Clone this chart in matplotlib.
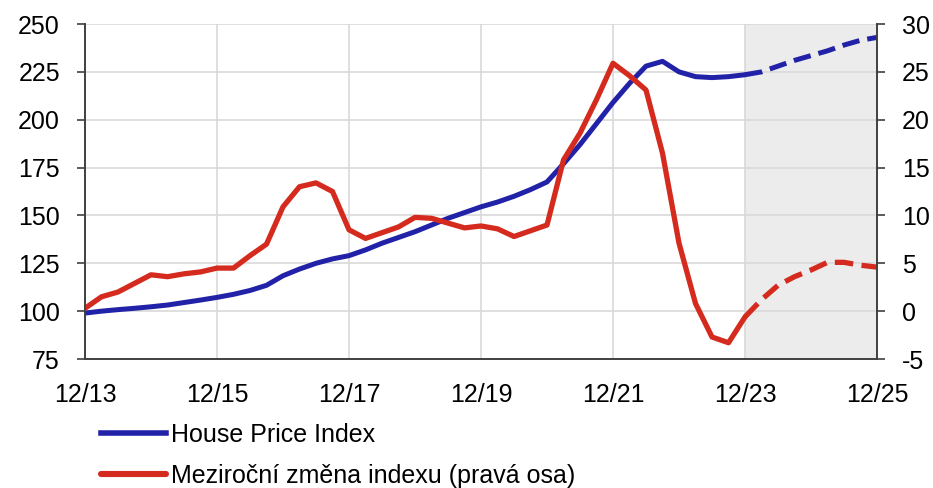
import matplotlib.pyplot as plt
import numpy as np

plt.rcParams['font.family'] = ['Liberation Sans', 'DejaVu Sans']
plt.rcParams['axes.unicode_minus'] = False

# quarterly observations, Q4 2013 .. Q4 2025 (last 8 quarters are forecast)
hpi = [99, 100, 100.8, 101.5, 102.3, 103.2, 104.5, 105.8, 107.2, 108.8,
       110.8, 113.5, 118.5, 122, 125, 127.3, 129, 132, 135.5, 138.5,
       141.5, 145, 148.5, 151.5, 154.5, 157, 160, 163.5, 167.5, 177,
       187, 198, 209, 219, 228, 230.5, 225, 222.5, 222, 222.5,
       223.5, 225, 228, 231, 233.5, 236, 239, 241.5, 243]
yoy = [0.3, 1.5, 2.0, 2.9, 3.8, 3.6, 3.9, 4.1, 4.5, 4.5,
       5.8, 7.0, 10.9, 13.0, 13.4, 12.5, 8.5, 7.6, 8.2, 8.8,
       9.8, 9.7, 9.2, 8.7, 8.9, 8.6, 7.8, 8.4, 9.0, 15.8,
       18.6, 22.1, 25.9, 24.6, 23.1, 16.5, 7.1, 0.8, -2.7, -3.3,
       -0.6, 1.2, 2.7, 3.6, 4.3, 5.1, 5.1, 4.8, 4.6]
n_actual = 41  # up to Q4 2023
tick_labels = ['12/13', '12/15', '12/17', '12/19', '12/21', '12/23', '12/25']

blue = '#2222a8'
red = '#d52b1e'
dash = (0, (3.5, 1.6))

q = np.arange(len(hpi))

fig = plt.figure(figsize=(9.33, 4.88), dpi=100)
ax = fig.add_axes([0.0911, 0.2643, 0.8489, 0.6865])
ax2 = ax.twinx()

ax.axvspan(40, 48, color='#ececec', zorder=0)

ax.plot(q[:n_actual], hpi[:n_actual], color=blue, lw=3.6, solid_capstyle='round')
ax.plot(q[n_actual - 1:], hpi[n_actual - 1:], color=blue, lw=3.6, ls=dash)
ax2.plot(q[:n_actual], yoy[:n_actual], color=red, lw=3.8, solid_capstyle='round')
ax2.plot(q[n_actual - 1:], yoy[n_actual - 1:], color=red, lw=3.8, ls=dash)

ax.set_xlim(0, 48)
ax.set_ylim(75, 250)
ax2.set_ylim(-5, 30)
ax.set_yticks(np.arange(75, 251, 25))
ax2.set_yticks(np.arange(-5, 31, 5))
ax.set_xticks(np.arange(0, 49, 8))
ax.set_xticklabels(tick_labels)

ax.grid(True, color='#d9d9d9', lw=1.2)
ax.set_axisbelow(True)

for a in (ax, ax2):
    a.spines['top'].set_visible(False)
    for s in ('left', 'right', 'bottom'):
        a.spines[s].set_color('#404040')
        a.spines[s].set_linewidth(1.2)
ax.tick_params(axis='y', labelsize=18, length=6, width=1.2, color='#404040', pad=12)
ax2.tick_params(axis='y', labelsize=18, length=6, width=1.2, color='#404040', pad=12)
ax.tick_params(axis='x', labelsize=18, length=0, pad=17)

handles = [plt.Line2D([], [], color=blue, lw=4),
           plt.Line2D([], [], color=red, lw=4.4, solid_capstyle='round')]
fig.legend(handles, ['House Price Index', 'Meziroční změna indexu (pravá osa)'],
           loc='upper left', bbox_to_anchor=(0.1083, 0.1337), frameon=False,
           borderaxespad=0, borderpad=0,
           fontsize=18, handlelength=2.6, handletextpad=0.2, labelspacing=0.68)

fig.savefig('out.png', dpi=100)
